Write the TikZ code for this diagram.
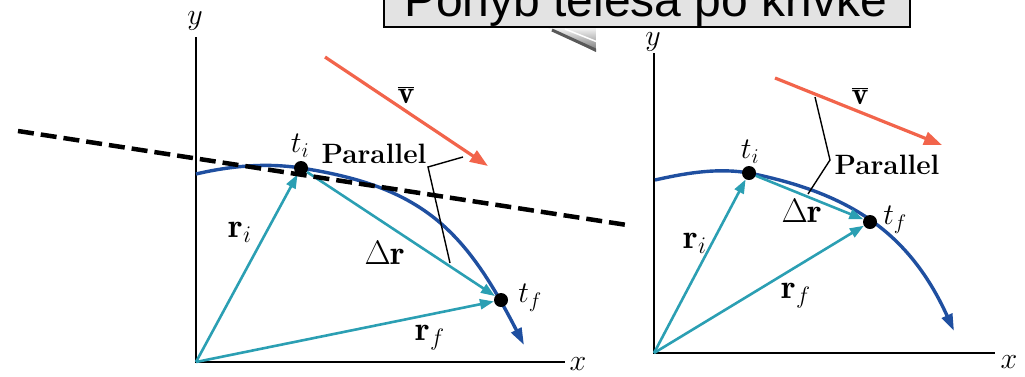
\RequirePackage{fix-cm}
\documentclass[tikz,border=0pt]{standalone}
\usepackage{fontspec}
\newfontfamily\titlefont{Liberation Sans}
\usetikzlibrary{arrows.meta}
\definecolor{curveblue}{HTML}{1F4FA0}
\definecolor{tealv}{HTML}{2B9FB3}
\definecolor{vred}{HTML}{F2644B}
\tikzset{
  axisline/.style={line width=1.4pt, black},
  curveline/.style={line width=3.4pt, curveblue, -{Triangle[length=17pt,width=11pt]}},
  curvenoarrow/.style={line width=3.4pt, curveblue},
  vecline/.style={line width=2.6pt, tealv, -{Triangle[length=14pt,width=10pt]}},
  vbarline/.style={line width=3.2pt, vred, -{Triangle[length=18pt,width=13pt]}},
  dotnode/.style={circle, fill=black, inner sep=0pt, minimum size=14pt},
  lbl/.style={font=\fontsize{30}{34}\selectfont, inner sep=0pt},
  lblr/.style={font=\fontsize{34}{38}\selectfont, inner sep=0pt},
  lblv/.style={font=\fontsize{32}{36}\selectfont, inner sep=0pt},
  lblb/.style={font=\fontsize{28}{30}\selectfont\bfseries, inner sep=0pt},
  brkline/.style={line width=1.4pt, black},
  tangline/.style={line width=4.5pt, black, dash pattern=on 16pt off 7pt},
  titlebox/.style={draw=black, line width=1.6pt, fill=black!11},
}
\begin{document}
\begin{tikzpicture}[x=1pt,y=-1pt]
\useasboundingbox (0,0) rectangle (1025,376);
\begin{scope}
\clip (0,0) rectangle (1025,376);
% title box
\draw[titlebox] (384,-10) rectangle (910,27);
\node[anchor=base, inner sep=0pt, font=\titlefont\fontsize{48}{50}\selectfont] (title) at (645.5,16) {Pohyb telesa po krivke};
% page-curl artifact
\begin{scope}
\clip (548,28.8) rectangle (596,75);
\shade[top color=black!5, bottom color=black!55] (548,28) -- (596,28) -- (596,52) -- cycle;
\draw[black!65, line width=3pt] (552,30) -- (600,52);
\draw[white, line width=1.5pt] (565,29) -- (600,43);
\end{scope}

% ---------------- left panel ----------------
\coordinate (O1) at (196,362);
\coordinate (Y1) at (196,37);
\coordinate (X1) at (565,362);
\draw[axisline] (Y1) -- (O1) -- (X1);
\node[lbl] (ylab1) at (195,21) {$y$};
\node[lbl] (xlab1) at (578,364) {$x$};

\draw[curvenoarrow] (196,174) .. controls (230,166) and (266,162.6) .. (301,168);
\draw[curveline] (301,168) .. controls (421,186.5) and (464,228) .. (524,345);

\node[dotnode] (ti1) at (301,168) {};
\node[dotnode] (tf1) at (501,300) {};

\draw[vecline] (O1) -- (ti1);
\draw[vecline] (ti1) -- (tf1);
\draw[vecline] (O1) -- (tf1);

\draw[vbarline] (325,57) -- (488,166);
\node[lblv] (vlab1) at (406,95) {$\overline{\mathbf{v}}$};

\node[lbl] (tilab1) at (300,146) {$t_i$};
\node[lbl] (tflab1) at (530,298) {$t_f$};
\node[lblb] (par1) at (374,154) {Parallel};
\node[lblr] (rilab1) at (240,232) {$\mathbf{r}_i$};
\node[lblr] (drlab1) at (385,253) {$\Delta\mathbf{r}$};
\node[lblr] (rflab1) at (430,338) {$\mathbf{r}_f$};

\draw[brkline] (463,157) -- (428,167) -- (450,263);

% ---------------- right panel ----------------
\coordinate (O2) at (654,353);
\coordinate (Y2) at (654,53);
\coordinate (X2) at (995,353);
\draw[axisline] (Y2) -- (O2) -- (X2);
\node[lbl] (ylab2) at (653,42) {$y$};
\node[lbl] (xlab2) at (1009,362) {$x$};

\draw[curvenoarrow] (655,180) .. controls (690,172) and (720,168) .. (749,173);
\draw[curveline] (749,173) .. controls (849,193) and (909,232) .. (954,331);

\node[dotnode] (ti2) at (749,173) {};
\node[dotnode] (tf2) at (870,222) {};

\draw[vecline] (O2) -- (ti2);
\draw[vecline] (ti2) -- (tf2);
\draw[vecline] (O2) -- (tf2);

\draw[vbarline] (775,78) -- (942,145);
\node[lblv] (vlab2) at (860,96) {$\overline{\mathbf{v}}$};

\node[lbl] (tilab2) at (750,152) {$t_i$};
\node[lbl] (tflab2) at (895,220) {$t_f$};
\node[lblb] (par2) at (887,165) {Parallel};
\node[lblr] (rilab2) at (695,243) {$\mathbf{r}_i$};
\node[lblr] (drlab2) at (802,211) {$\Delta\mathbf{r}$};
\node[lblr] (rflab2) at (796,296) {$\mathbf{r}_f$};

\draw[brkline] (815,97) -- (830,160) -- (808,194);

% tangent dashed line
\draw[tangline] (18,131) -- (627,225);
\end{scope}
\end{tikzpicture}
\end{document}
